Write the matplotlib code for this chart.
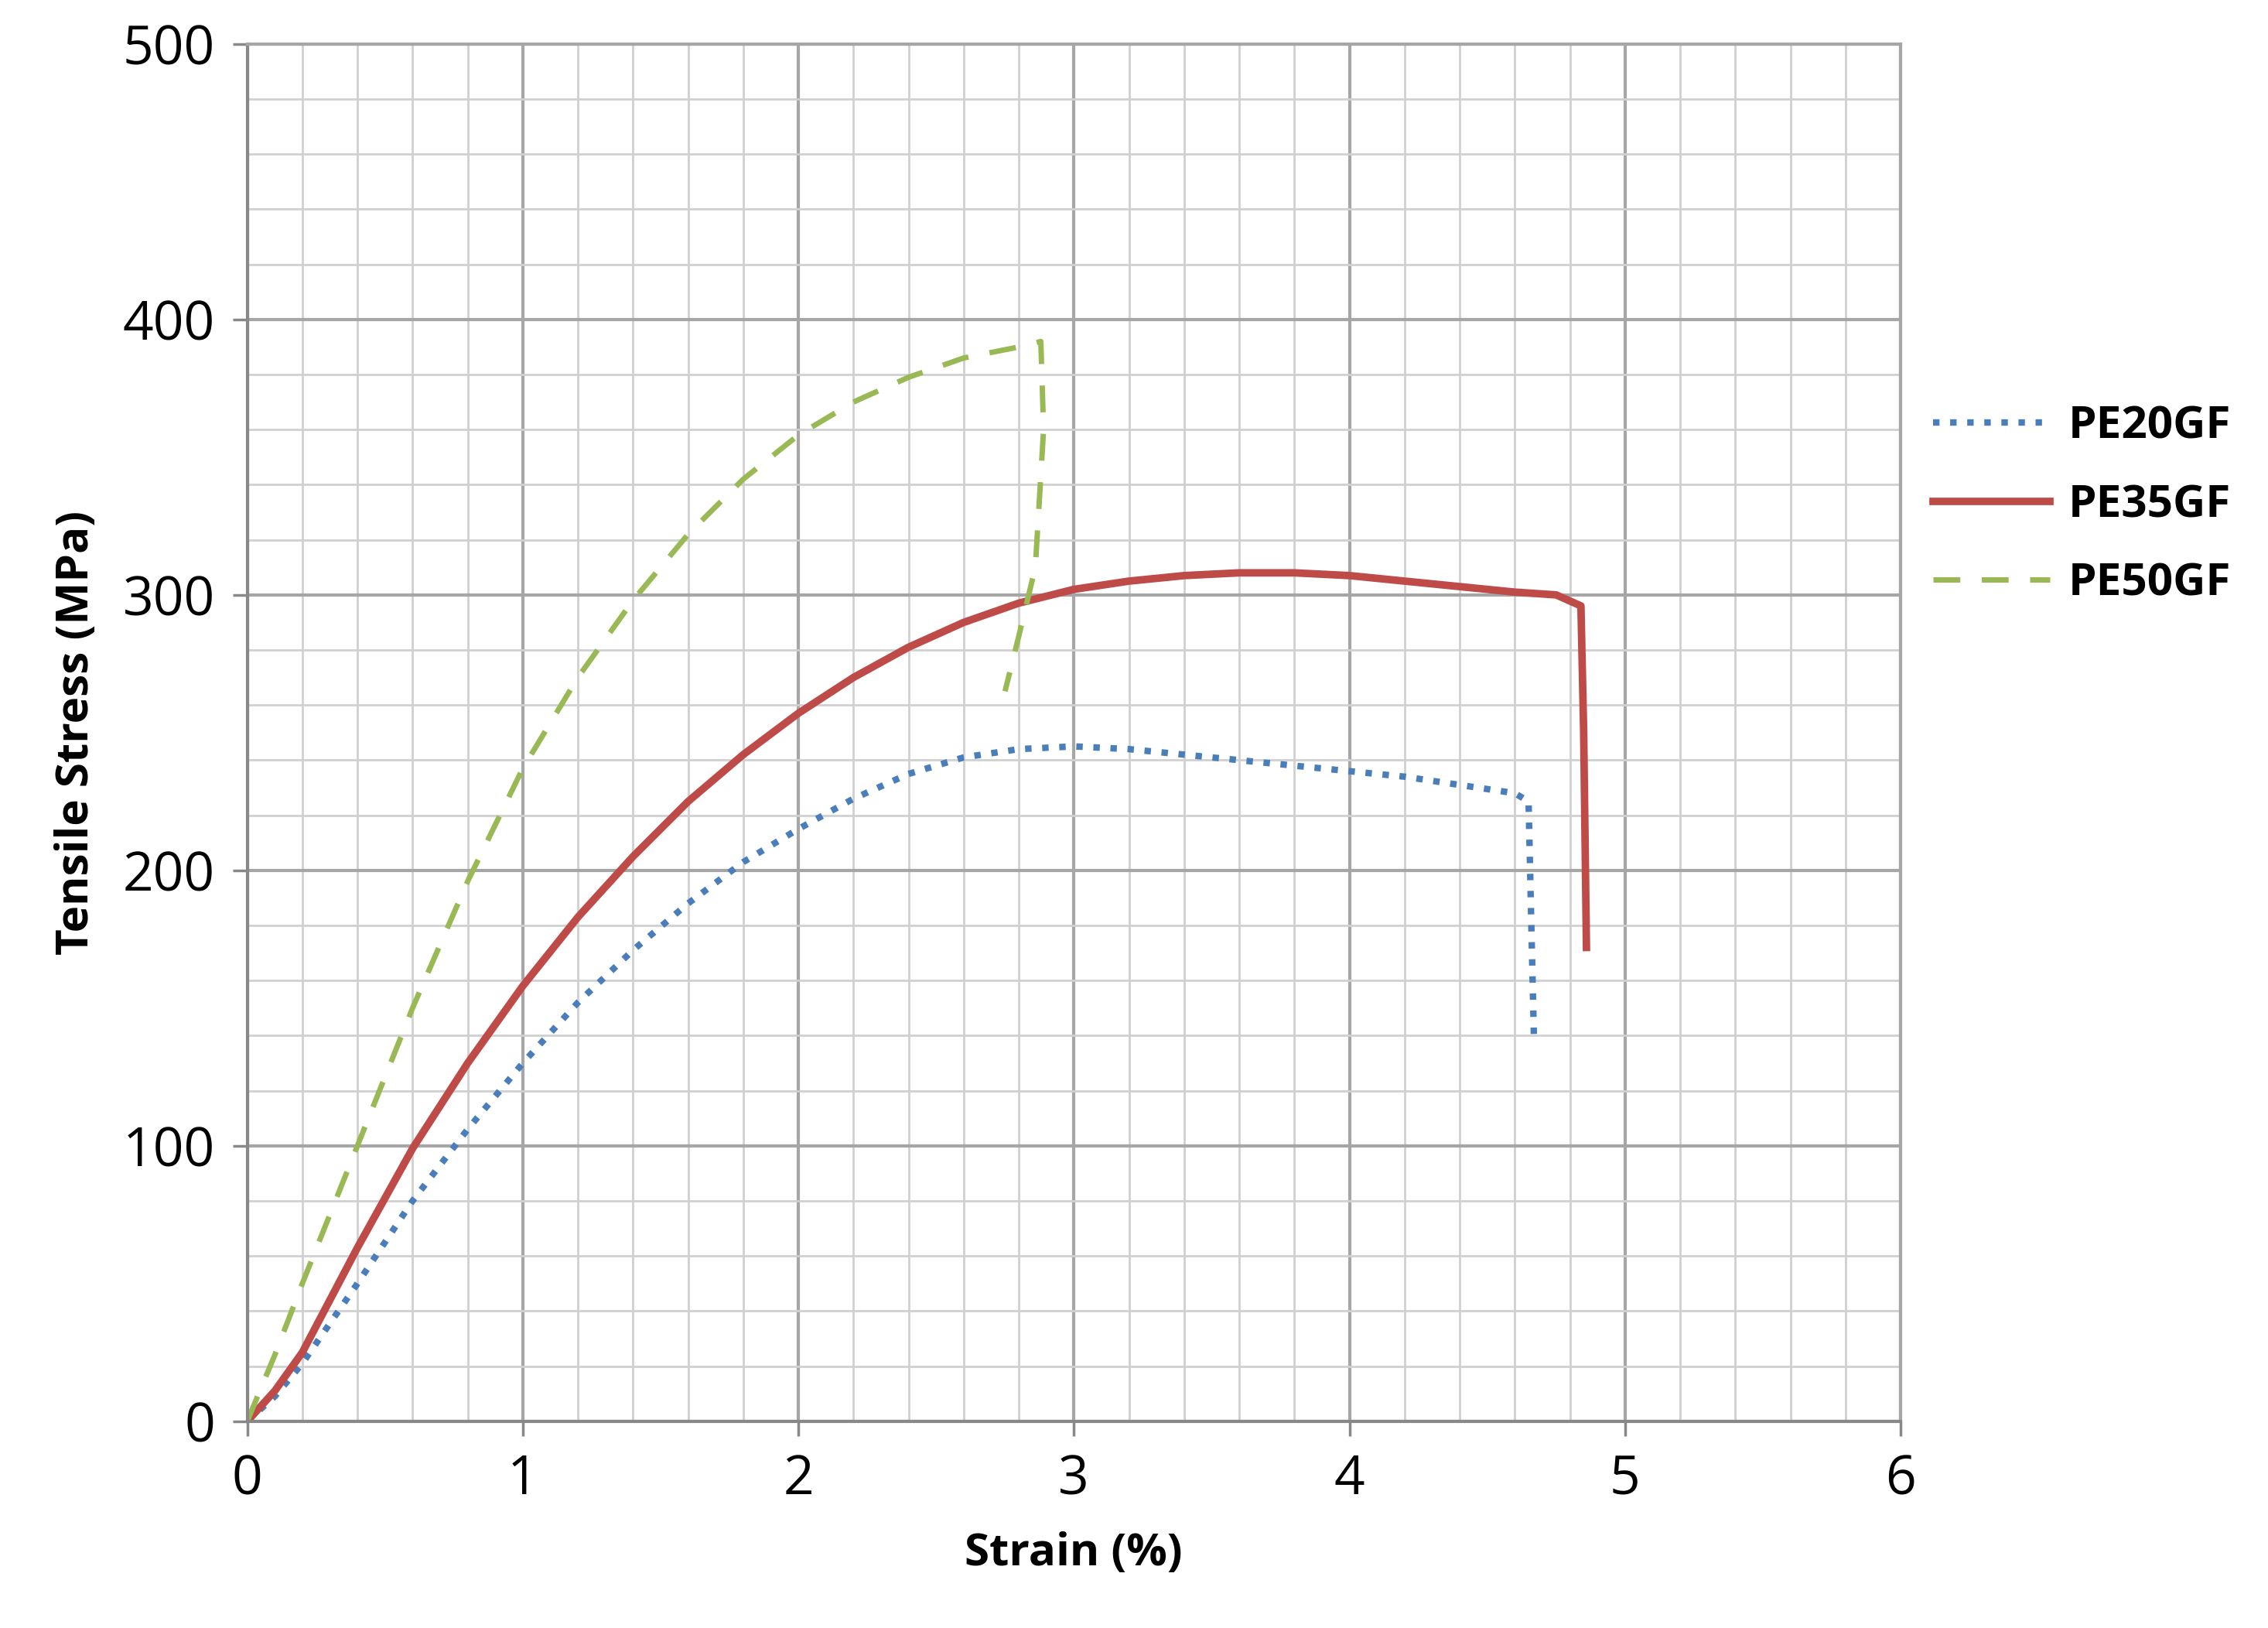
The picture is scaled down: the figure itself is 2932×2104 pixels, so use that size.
import matplotlib.pyplot as plt
import numpy as np

plt.rcParams['font.family'] = ['Open Sans', 'DejaVu Sans']

pe20_x = [0, 0.1, 0.2, 0.4, 0.6, 0.8, 1.0, 1.2, 1.4, 1.6, 1.8, 2.0, 2.2, 2.4, 2.6, 2.8, 3.0,
          3.2, 3.4, 3.6, 3.8, 4.0, 4.2, 4.4, 4.6, 4.65, 4.66, 4.67]
pe20_y = [0, 9, 21, 50, 80, 106, 130, 152, 171, 188, 203, 215, 226, 235, 241, 244, 245,
          244, 242, 240, 238, 236, 234, 231, 228, 225, 180, 137]

pe35_x = [0, 0.1, 0.2, 0.3, 0.4, 0.6, 0.8, 1.0, 1.2, 1.4, 1.6, 1.8, 2.0, 2.2, 2.4, 2.6, 2.8, 3.0,
          3.2, 3.4, 3.6, 3.8, 4.0, 4.2, 4.4, 4.6, 4.75, 4.84, 4.85, 4.86]
pe35_y = [0, 11, 25, 44, 63, 99, 130, 158, 183, 205, 225, 242, 257, 270, 281, 290, 297, 302,
          305, 307, 308, 308, 307, 305, 303, 301, 300, 296, 250, 172]

pe50_x = [0, 0.1, 0.2, 0.4, 0.6, 0.8, 1.0, 1.2, 1.4, 1.6, 1.8, 2.0, 2.2, 2.4, 2.6, 2.8,
          2.88, 2.89, 2.86, 2.80, 2.75]
pe50_y = [0, 24, 50, 100, 150, 196, 237, 270, 298, 322, 342, 358, 370, 379, 386, 390,
          392, 360, 310, 285, 265]

fig = plt.figure(figsize=(29.32, 21.04), dpi=100)
ax = fig.add_axes([0.109, 0.127, 0.729, 0.846])

ax.plot(pe20_x, pe20_y, color='#4a7ebb', linestyle=':', linewidth=6, label='PE20GF')
ax.plot(pe35_x, pe35_y, color='#be4b48', linestyle='-', linewidth=7, label='PE35GF')
ax.plot(pe50_x, pe50_y, color='#98b954', linestyle=(0, (5, 4)), linewidth=5, label='PE50GF')

ax.set_xlim(0, 6)
ax.set_ylim(0, 500)
ax.set_xticks(np.arange(0, 7, 1))
ax.set_yticks(np.arange(0, 600, 100))
ax.set_xticks(np.arange(0, 6.01, 0.2), minor=True)
ax.set_yticks(np.arange(0, 501, 20), minor=True)
ax.grid(which='major', color='#a6a6a6', linewidth=3)
ax.grid(which='minor', color='#d0d0d0', linewidth=2)
ax.tick_params(which='both', length=0, labelsize=50, pad=16)
ax.tick_params(which='major', length=14, width=2.5, color='#888888')
ax.set_axisbelow(True)
for side in ['top', 'right']:
    ax.spines[side].set_color('#a6a6a6')
    ax.spines[side].set_linewidth(3)
for side in ['left', 'bottom']:
    ax.spines[side].set_color('#888888')
    ax.spines[side].set_linewidth(3)

ax.set_xlabel('Strain (%)', fontsize=42, fontweight='bold', labelpad=22)
ax.set_ylabel('Tensile Stress (MPa)', fontsize=42, fontweight='bold', labelpad=22)

ax.legend(loc='center left', bbox_to_anchor=(0.995, 0.665), frameon=False,
          prop={'size': 42, 'weight': 'bold'}, handlelength=2.6, handletextpad=0.4,
          labelspacing=0.75)

fig.savefig('out.png', dpi=100)
